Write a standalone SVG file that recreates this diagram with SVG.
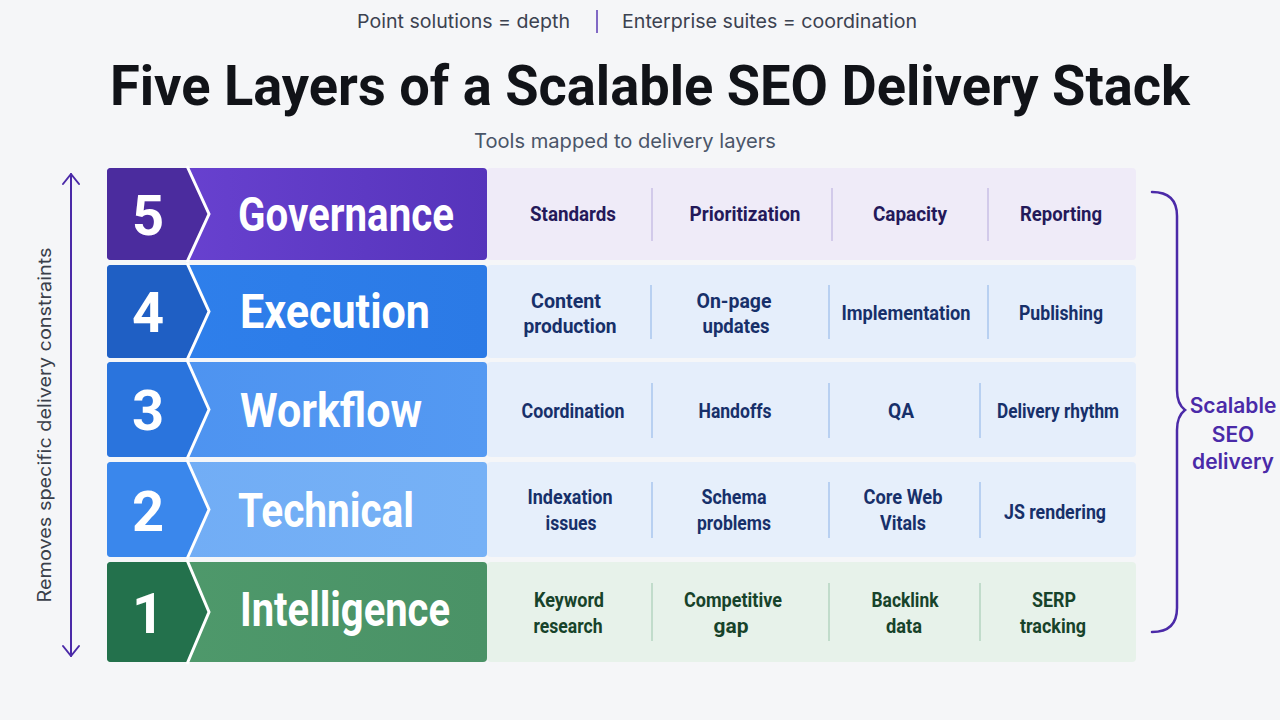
<svg xmlns="http://www.w3.org/2000/svg" width="1280" height="720" viewBox="0 0 1280 720">
  <defs>
    <style>
      .top { font-family: Inter, "Liberation Sans", sans-serif; font-size: 19px; fill: #3c4250; }
      .title { font-family: Roboto, "Liberation Sans", sans-serif; font-weight: 700; font-size: 56px; fill: #111318; }
      .sub { font-family: Inter, "Liberation Sans", sans-serif; font-size: 20px; fill: #4a5568; }
      .num { font-family: Roboto, "Liberation Sans", sans-serif; font-weight: 700; font-size: 56px; fill: #ffffff; text-anchor: middle; }
      .lbl { font-family: Roboto, "Liberation Sans", sans-serif; font-weight: 700; font-size: 48px; fill: #ffffff; }
      .cell { font-family: Roboto, "Liberation Sans", sans-serif; font-weight: 700; font-size: 20px; text-anchor: middle; }
      .c5 { fill: #24195a; }
      .cb { fill: #17306a; }
      .c1 { fill: #17432a; }
      .sep5 { stroke: #c9bfe6; stroke-width: 1.5; }
      .sepb { stroke: #a9c6ee; stroke-width: 1.5; }
      .sep1 { stroke: #b5d4c0; stroke-width: 1.5; }
      .chev { fill: none; stroke: #ffffff; stroke-width: 3; }
      .side { font-family: Inter, "Liberation Sans", sans-serif; font-size: 18px; fill: #3a3f4a; }
      .brace-t { font-family: Inter, "Liberation Sans", sans-serif; font-weight: 600; font-size: 21px; fill: #4a2aa8; text-anchor: middle; }
      .ann { fill: none; stroke: #4b2aa8; stroke-width: 2; stroke-linecap: round; stroke-linejoin: round; }
    </style>
    <linearGradient id="g5" x1="0" y1="0" x2="1" y2="0">
      <stop offset="0" stop-color="#6c44d4"/>
      <stop offset="1" stop-color="#5634bb"/>
    </linearGradient>
    <linearGradient id="g4" x1="0" y1="0" x2="1" y2="0">
      <stop offset="0" stop-color="#2f80ec"/>
      <stop offset="1" stop-color="#2b7ae6"/>
    </linearGradient>
    <linearGradient id="g3" x1="0" y1="0" x2="1" y2="0">
      <stop offset="0" stop-color="#4c92f0"/>
      <stop offset="1" stop-color="#5499f2"/>
    </linearGradient>
    <linearGradient id="g2" x1="0" y1="0" x2="1" y2="0">
      <stop offset="0" stop-color="#70acf5"/>
      <stop offset="1" stop-color="#76b1f6"/>
    </linearGradient>
    <linearGradient id="g1" x1="0" y1="0" x2="1" y2="0">
      <stop offset="0" stop-color="#4f9a6c"/>
      <stop offset="1" stop-color="#4a9266"/>
    </linearGradient>
  </defs>

  <rect width="1280" height="720" fill="#f5f6f8"/>

  <!-- header -->
  <g id="header">
    <text class="top" x="357" y="28" textLength="213" lengthAdjust="spacingAndGlyphs">Point solutions = depth</text>
    <line x1="597" y1="10" x2="597" y2="33" stroke="#5a3ab5" stroke-width="1.5"/>
    <text class="top" x="622" y="28" textLength="295" lengthAdjust="spacingAndGlyphs">Enterprise suites = coordination</text>
    <text class="title" x="110" y="105" textLength="1080" lengthAdjust="spacingAndGlyphs">Five Layers of a Scalable SEO Delivery Stack</text>
    <text class="sub" x="474" y="148" textLength="302" lengthAdjust="spacingAndGlyphs">Tools mapped to delivery layers</text>
  </g>

  <!-- Layer 5 -->
  <g id="layer5">
    <rect x="487" y="168" width="649" height="92" rx="4" fill="#efebf8"/>
    <rect x="107" y="168" width="380" height="92" rx="4" fill="url(#g5)"/>
    <path d="M111 168 H188 L210 214 L188 260 H111 Q107 260 107 256 V172 Q107 168 111 168 Z" fill="#4b2c9e"/>
    <polyline class="chev" points="187,166 209,214 187,262"/>
    <text class="num" x="148" y="235">5</text>
    <text class="lbl" x="238" y="231" textLength="216" lengthAdjust="spacingAndGlyphs">Governance</text>
    <line class="sep5" x1="652" y1="188" x2="652" y2="241"/>
    <line class="sep5" x1="832" y1="188" x2="832" y2="241"/>
    <line class="sep5" x1="988" y1="188" x2="988" y2="241"/>
    <text class="cell c5" x="573" y="221" textLength="86" lengthAdjust="spacingAndGlyphs">Standards</text>
    <text class="cell c5" x="745" y="221" textLength="111" lengthAdjust="spacingAndGlyphs">Prioritization</text>
    <text class="cell c5" x="910" y="221" textLength="74" lengthAdjust="spacingAndGlyphs">Capacity</text>
    <text class="cell c5" x="1061" y="221" textLength="82" lengthAdjust="spacingAndGlyphs">Reporting</text>
  </g>

  <!-- Layer 4 -->
  <g id="layer4">
    <rect x="487" y="265" width="649" height="93" rx="4" fill="#e5eefb"/>
    <rect x="107" y="265" width="380" height="93" rx="4" fill="url(#g4)"/>
    <path d="M111 265 H188 L210 311.5 L188 358 H111 Q107 358 107 354 V269 Q107 265 111 265 Z" fill="#1f5fc4"/>
    <polyline class="chev" points="187,263 209,311.5 187,360"/>
    <text class="num" x="148" y="332">4</text>
    <text class="lbl" x="240" y="328" textLength="190" lengthAdjust="spacingAndGlyphs">Execution</text>
    <line class="sepb" x1="651" y1="285" x2="651" y2="339"/>
    <line class="sepb" x1="829" y1="285" x2="829" y2="339"/>
    <line class="sepb" x1="988" y1="285" x2="988" y2="339"/>
    <text class="cell cb" x="566" y="308" textLength="70" lengthAdjust="spacingAndGlyphs">Content</text>
    <text class="cell cb" x="570" y="333" textLength="93" lengthAdjust="spacingAndGlyphs">production</text>
    <text class="cell cb" x="734" y="308" textLength="75" lengthAdjust="spacingAndGlyphs">On-page</text>
    <text class="cell cb" x="736" y="333" textLength="67" lengthAdjust="spacingAndGlyphs">updates</text>
    <text class="cell cb" x="906" y="320" textLength="129" lengthAdjust="spacingAndGlyphs">Implementation</text>
    <text class="cell cb" x="1061" y="320" textLength="84" lengthAdjust="spacingAndGlyphs">Publishing</text>
  </g>

  <!-- Layer 3 -->
  <g id="layer3">
    <rect x="487" y="362" width="649" height="95" rx="4" fill="#e5eefb"/>
    <rect x="107" y="362" width="380" height="95" rx="4" fill="url(#g3)"/>
    <path d="M111 362 H188 L210 409.5 L188 457 H111 Q107 457 107 453 V366 Q107 362 111 362 Z" fill="#2a74dd"/>
    <polyline class="chev" points="187,360 209,409.5 187,459"/>
    <text class="num" x="148" y="430">3</text>
    <text class="lbl" x="240" y="427" textLength="182" lengthAdjust="spacingAndGlyphs">Workflow</text>
    <line class="sepb" x1="652" y1="383" x2="652" y2="438"/>
    <line class="sepb" x1="829" y1="383" x2="829" y2="438"/>
    <line class="sepb" x1="980" y1="383" x2="980" y2="438"/>
    <text class="cell cb" x="573" y="418" textLength="103" lengthAdjust="spacingAndGlyphs">Coordination</text>
    <text class="cell cb" x="735" y="418" textLength="73" lengthAdjust="spacingAndGlyphs">Handoffs</text>
    <text class="cell cb" x="901" y="418" textLength="26" lengthAdjust="spacingAndGlyphs">QA</text>
    <text class="cell cb" x="1058" y="418" textLength="122" lengthAdjust="spacingAndGlyphs">Delivery rhythm</text>
  </g>

  <!-- Layer 2 -->
  <g id="layer2">
    <rect x="487" y="462" width="649" height="95" rx="4" fill="#e6effb"/>
    <rect x="107" y="462" width="380" height="95" rx="4" fill="url(#g2)"/>
    <path d="M111 462 H188 L210 509.5 L188 557 H111 Q107 557 107 553 V466 Q107 462 111 462 Z" fill="#3a87ec"/>
    <polyline class="chev" points="187,460 209,509.5 187,559"/>
    <text class="num" x="148" y="531">2</text>
    <text class="lbl" x="238" y="527" textLength="176" lengthAdjust="spacingAndGlyphs">Technical</text>
    <line class="sepb" x1="652" y1="482" x2="652" y2="538"/>
    <line class="sepb" x1="829" y1="482" x2="829" y2="538"/>
    <line class="sepb" x1="980" y1="482" x2="980" y2="538"/>
    <text class="cell cb" x="570" y="504" textLength="85" lengthAdjust="spacingAndGlyphs">Indexation</text>
    <text class="cell cb" x="571" y="530" textLength="51" lengthAdjust="spacingAndGlyphs">issues</text>
    <text class="cell cb" x="734" y="504" textLength="65" lengthAdjust="spacingAndGlyphs">Schema</text>
    <text class="cell cb" x="734" y="530" textLength="74" lengthAdjust="spacingAndGlyphs">problems</text>
    <text class="cell cb" x="903" y="504" textLength="79" lengthAdjust="spacingAndGlyphs">Core Web</text>
    <text class="cell cb" x="903" y="530" textLength="46" lengthAdjust="spacingAndGlyphs">Vitals</text>
    <text class="cell cb" x="1055" y="519" textLength="102" lengthAdjust="spacingAndGlyphs">JS rendering</text>
  </g>

  <!-- Layer 1 -->
  <g id="layer1">
    <rect x="487" y="562" width="649" height="100" rx="4" fill="#e7f2ea"/>
    <rect x="107" y="562" width="380" height="100" rx="4" fill="url(#g1)"/>
    <path d="M111 562 H188 L210 612 L188 662 H111 Q107 662 107 658 V566 Q107 562 111 562 Z" fill="#23714c"/>
    <polyline class="chev" points="187,560 209,612 187,664"/>
    <text class="num" x="148" y="633">1</text>
    <text class="lbl" x="240" y="626" textLength="210" lengthAdjust="spacingAndGlyphs">Intelligence</text>
    <line class="sep1" x1="652" y1="583" x2="652" y2="641"/>
    <line class="sep1" x1="829" y1="583" x2="829" y2="641"/>
    <line class="sep1" x1="980" y1="583" x2="980" y2="641"/>
    <text class="cell c1" x="569" y="607" textLength="70" lengthAdjust="spacingAndGlyphs">Keyword</text>
    <text class="cell c1" x="568" y="633" textLength="69" lengthAdjust="spacingAndGlyphs">research</text>
    <text class="cell c1" x="733" y="607" textLength="98" lengthAdjust="spacingAndGlyphs">Competitive</text>
    <text class="cell c1" x="731" y="633" textLength="35" lengthAdjust="spacingAndGlyphs">gap</text>
    <text class="cell c1" x="905" y="607" textLength="67" lengthAdjust="spacingAndGlyphs">Backlink</text>
    <text class="cell c1" x="904" y="633" textLength="36" lengthAdjust="spacingAndGlyphs">data</text>
    <text class="cell c1" x="1054" y="607" textLength="44" lengthAdjust="spacingAndGlyphs">SERP</text>
    <text class="cell c1" x="1053" y="633" textLength="66" lengthAdjust="spacingAndGlyphs">tracking</text>
  </g>

  <!-- connectors / annotations -->
  <g id="connectors">
    <line class="ann" x1="71" y1="174" x2="71" y2="656"/>
    <polyline class="ann" points="63,184 71,174 79,184"/>
    <polyline class="ann" points="63,646 71,656 79,646"/>
    <path d="M1152 192 Q1177 192 1177 216 V390 Q1177 404 1185 410 Q1177 416 1177 430 V608 Q1177 632 1152 632" fill="none" stroke="#4b2aa8" stroke-width="2.5" stroke-linecap="round"/>
  </g>

  <g id="side-labels">
    <text class="side" transform="translate(51 425) rotate(-90)" text-anchor="middle" textLength="355" lengthAdjust="spacingAndGlyphs">Removes specific delivery constraints</text>
    <text class="brace-t" x="1233" y="413">Scalable</text>
    <text class="brace-t" x="1233" y="442">SEO</text>
    <text class="brace-t" x="1233" y="469">delivery</text>
  </g>
</svg>
